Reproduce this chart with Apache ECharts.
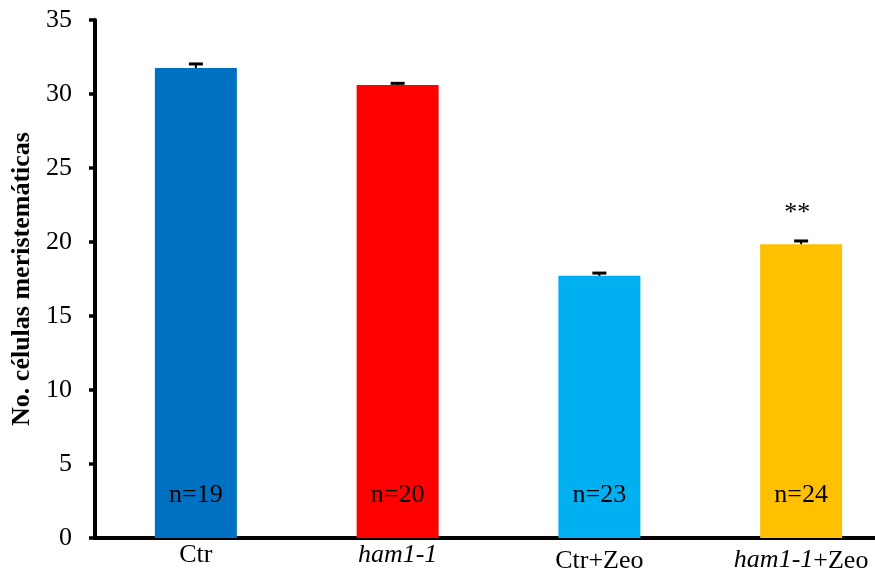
<!DOCTYPE html>
<html>
<head>
<meta charset="utf-8">
<script src="https://cdn.jsdelivr.net/npm/echarts@6/dist/echarts.min.js"></script>
<style>html,body{margin:0;padding:0;background:#fff;}#c{width:875px;height:570px;}</style>
</head>
<body>
<div id="c"></div>
<script>
const categories = ['Ctr', 'ham1-1', 'Ctr+Zeo', 'ham1-1+Zeo'];
const means = [31.75, 30.6, 17.72, 19.85];
const errors = [0.28, 0.12, 0.18, 0.22];
const nLabels = ['n=19', 'n=20', 'n=23', 'n=24'];
const sigLabels = ['', '', '', '**'];
const barColors = ['#0070C0', '#FF0000', '#00B0F0', '#FFC000'];
const yTicks = [0, 5, 10, 15, 20, 25, 30, 35];

const FONT = '"Liberation Serif", "Times New Roman", serif';
const chart = echarts.init(document.getElementById('c'));

function catLabel(v) {
  if (v === 'ham1-1') return '{it|ham1-1}';
  if (v === 'ham1-1+Zeo') return '{itl|ham1-1}{nl|+Zeo}';
  if (v === 'Ctr+Zeo') return '{nl|Ctr+Zeo}';
  return '{n|' + v + '}';
}

chart.setOption({
  animation: false,
  backgroundColor: '#fff',
  grid: { left: 95, width: 807, top: 20, bottom: 32, containLabel: false, outerBoundsMode: 'none' },
  xAxis: {
    type: 'category',
    data: categories,
    axisLine: { lineStyle: { color: '#000', width: 4 } },
    axisTick: { show: false },
    axisLabel: {
      margin: 4,
      interval: 0,
      hideOverlap: false,
      formatter: catLabel,
      rich: {
        n: { fontFamily: FONT, fontSize: 26, color: '#000' },
        it: { fontFamily: FONT, fontSize: 26, color: '#000', fontStyle: 'italic' },
        nl: { fontFamily: FONT, fontSize: 26, color: '#000', padding: [6, 0, 0, 0] },
        itl: { fontFamily: FONT, fontSize: 26, color: '#000', fontStyle: 'italic', padding: [4, 0, 0, 0] }
      }
    }
  },
  yAxis: {
    type: 'value',
    min: yTicks[0],
    max: yTicks[yTicks.length - 1],
    interval: 5,
    name: 'No. células meristemáticas',
    nameLocation: 'middle',
    nameGap: 58,
    nameTextStyle: { fontFamily: FONT, fontSize: 26, fontWeight: 'bold', color: '#000' },
    axisLine: { show: true, lineStyle: { color: '#000', width: 4 } },
    axisTick: { show: true, length: 6, lineStyle: { color: '#000', width: 3.5 } },
    axisLabel: { fontFamily: FONT, fontSize: 26, color: '#000', margin: 23 },
    splitLine: { show: false }
  },
  series: [
    {
      type: 'bar',
      barWidth: 82,
      data: means.map((v, i) => ({ value: v, itemStyle: { color: barColors[i] } })),
      label: {
        show: true,
        position: 'insideBottom',
        distance: 30,
        fontFamily: FONT,
        fontSize: 26,
        color: '#000',
        formatter: p => nLabels[p.dataIndex]
      }
    },
    {
      type: 'custom',
      z: 10,
      encode: { x: 0, y: 1 },
      data: categories.map((c, i) => [i, means[i], errors[i]]),
      renderItem: function (params, api) {
        const x = api.value(0), m = api.value(1), e = api.value(2);
        const base = api.coord([x, m]);
        const top = api.coord([x, m + e]);
        const half = 7;
        const children = [
          { type: 'line', shape: { x1: base[0], y1: base[1], x2: top[0], y2: top[1] }, style: { stroke: '#000', lineWidth: 2 } },
          { type: 'line', shape: { x1: top[0] - half, y1: top[1], x2: top[0] + half, y2: top[1] }, style: { stroke: '#000', lineWidth: 3 } }
        ];
        const s = sigLabels[params.dataIndex];
        if (s) {
          children.push({ type: 'text', x: top[0] - 4, y: top[1] - 28,
            style: { text: s, fontFamily: FONT, fontSize: 26, fill: '#000', align: 'center', verticalAlign: 'middle' } });
        }
        return { type: 'group', children: children };
      }
    }
  ]
});
</script>
</body>
</html>
